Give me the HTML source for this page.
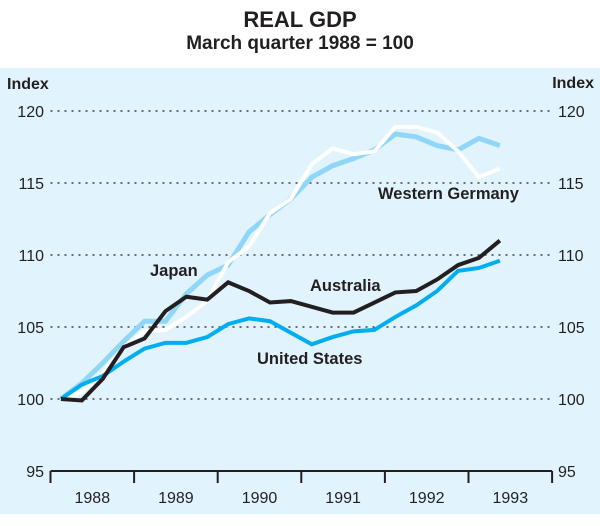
<!DOCTYPE html>
<html><head><meta charset="utf-8"><style>
body{margin:0;background:#fff;}
svg{display:block;font-family:"Liberation Sans",Arial,sans-serif;}
</style></head><body>
<svg id="chart" width="600" height="526" viewBox="0 0 600 526">
<rect x="0" y="68" width="600" height="446" fill="#e1f3fd"/>
<text x="300" y="27" text-anchor="middle" font-size="22" font-weight="bold" fill="#231f20">REAL GDP</text>
<text x="300" y="49" text-anchor="middle" font-size="19" font-weight="bold" fill="#231f20">March quarter 1988 = 100</text>
<text x="7" y="89" font-size="16" font-weight="bold" fill="#231f20">Index</text>
<text x="594" y="88" text-anchor="end" font-size="16" font-weight="bold" fill="#231f20">Index</text>
<g id="grid"></g><g id="axis"></g><g id="lines"></g>
<text x="150" y="276" font-size="16.5" font-weight="bold" fill="#231f20">Japan</text>
<text x="310" y="291" font-size="16.5" font-weight="bold" fill="#231f20">Australia</text>
<text x="257" y="364" font-size="16.5" font-weight="bold" fill="#231f20">United States</text>
<text x="378" y="199" font-size="16.5" font-weight="bold" fill="#231f20">Western Germany</text>
</svg>
<script>
const years=["1988","1989","1990","1991","1992","1993"];
const yTicks=[95,100,105,110,115,120];
const japan=[100,101.1,102.5,104.0,105.4,105.4,107.3,108.6,109.3,111.6,112.8,113.9,115.4,116.2,116.7,117.3,118.4,118.2,117.6,117.3,118.1,117.6];
const germany=[100,100.5,101.8,103.6,104.7,104.8,105.7,106.8,109.5,110.6,112.9,113.9,116.3,117.4,117.0,117.2,118.9,118.9,118.5,117.2,115.4,116.0];
const unitedStates=[100,101.0,101.6,102.6,103.5,103.9,103.9,104.3,105.2,105.6,105.4,104.6,103.8,104.3,104.7,104.8,105.7,106.5,107.5,108.9,109.1,109.6];
const australia=[100,99.9,101.4,103.6,104.2,106.1,107.1,106.9,108.1,107.5,106.7,106.8,106.4,106.0,106.0,106.7,107.4,107.5,108.3,109.3,109.8,111.0];
const X0=50.5,YW=83.6;
const xq=i=>X0+YW/4*(i+0.5);
const yv=v=>399-(v-100)*14.4;
const NS="http://www.w3.org/2000/svg";
function mk(t,a,p){const e=document.createElementNS(NS,t);for(const k in a)e.setAttribute(k,a[k]);p.appendChild(e);return e;}
const grid=document.getElementById('grid'),axis=document.getElementById('axis'),lines=document.getElementById('lines');
yTicks.forEach(v=>{
 if(v>95){const l=mk('line',{x1:X0,x2:X0+6*YW,y1:yv(v),y2:yv(v),stroke:'#231f20','stroke-width':1.2,'stroke-dasharray':'2,5'},grid);
 
 }
 const a=mk('text',{x:44,y:yv(v)+6,'text-anchor':'end','font-size':16,fill:'#231f20'},axis);a.textContent=v;
 
 
 const b=mk('text',{x:558,y:yv(v)+6,'font-size':16,fill:'#231f20'},axis);b.textContent=v;
 
 
});
const base=mk('line',{x1:X0,x2:X0+6*YW,y1:yv(95),y2:yv(95),stroke:'#231f20','stroke-width':2},axis);


for(let i=0;i<=6;i++){const t=mk('line',{x1:X0+i*YW,x2:X0+i*YW,y1:yv(95),y2:yv(95)+12,stroke:'#231f20','stroke-width':2},axis);
 
 }
years.forEach((y,i)=>{const t=mk('text',{x:X0+YW*(i+0.5),y:503,'text-anchor':'middle','font-size':16,fill:'#231f20'},axis);t.textContent=y;
 
 });
function series(d,c,w,n){const p=mk('polyline',{points:d.map((v,i)=>xq(i)+','+yv(v)).join(' '),fill:'none',stroke:c,'stroke-width':w,'stroke-linejoin':'miter'},lines);
 
 }
series(japan,'#8fd6f7',5,'japan-line');
series(germany,'#ffffff',4,'western-germany-line');
series(unitedStates,'#00aeef',4,'united-states-line');
series(australia,'#231f20',4,'australia-line');
</script>
</body></html>
